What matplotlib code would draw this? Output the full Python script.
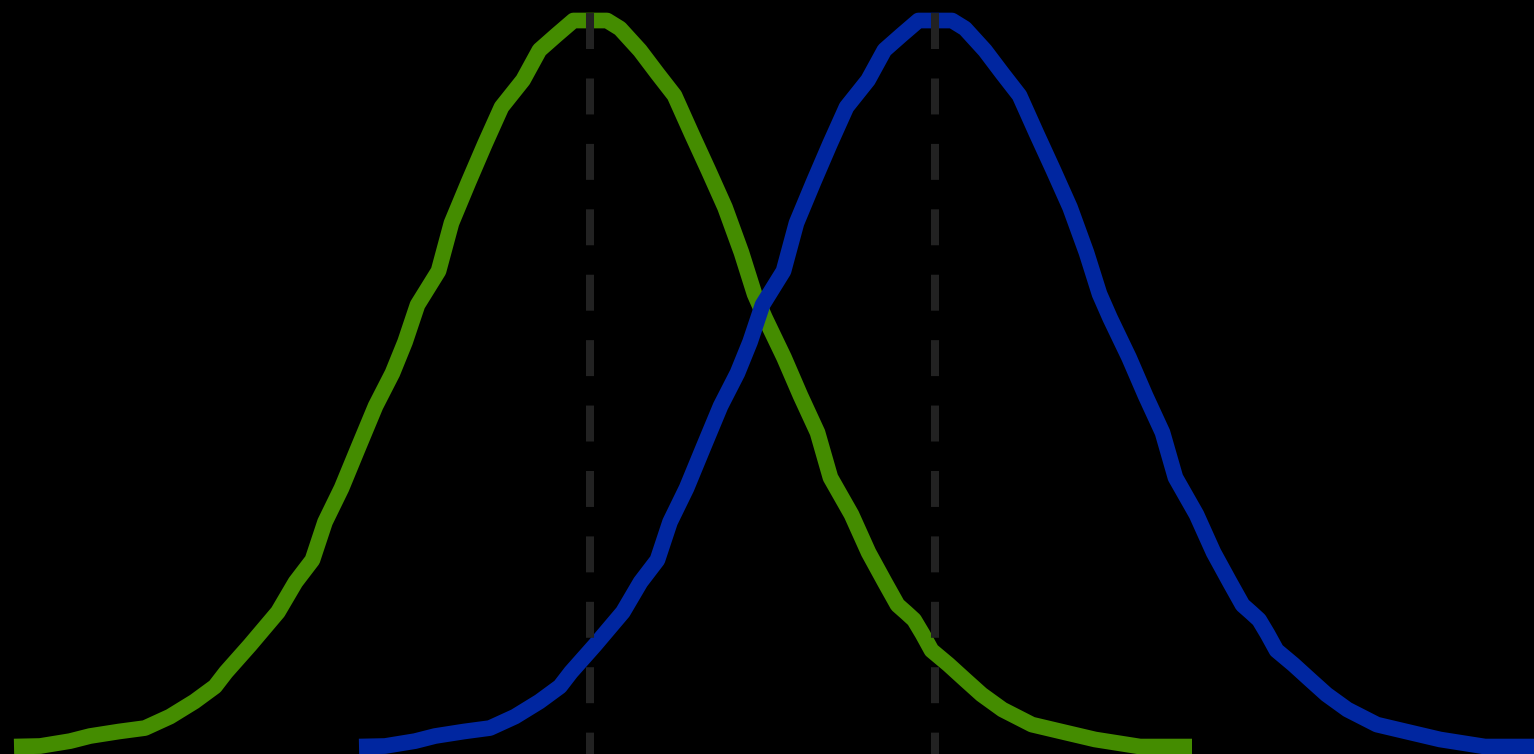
import numpy as np
import matplotlib
matplotlib.use('Agg')
import matplotlib.pyplot as plt

# Dash lengths are given in points, not in multiples of the line width
plt.rcParams['lines.scale_dashes'] = False

# Shape of the density curve (x relative to the mean)
x_rel = [-3.342, -3.191, -3.017, -2.901, -2.733, -2.583, -2.438, -2.296,
         -2.177, -2.113, -1.974, -1.812, -1.710, -1.612, -1.539, -1.443,
         -1.345, -1.246, -1.148, -1.075, -1.003, -0.881, -0.806, -0.707,
         -0.612, -0.516, -0.391, -0.296, -0.197, -0.099, 0.000, 0.096,
         0.171, 0.287, 0.388, 0.487, 0.586, 0.684, 0.780, 0.875,
         0.951, 1.012, 1.122, 1.217, 1.316, 1.391, 1.513, 1.612,
         1.707, 1.780, 1.830, 1.876, 1.925, 1.977, 2.075, 2.171, 2.267,
         2.388, 2.559, 2.728, 2.925, 3.186, 3.487]
density = [0.0000, 0.0003, 0.0030, 0.0058, 0.0083, 0.0102, 0.0165, 0.0248,
           0.0331, 0.0410, 0.0559, 0.0741, 0.0906, 0.1028, 0.1237, 0.1424,
           0.1650, 0.1876, 0.2058, 0.2229, 0.2433, 0.2620, 0.2884, 0.3110,
           0.3320, 0.3523, 0.3672, 0.3837, 0.3920, 0.4000, 0.4000, 0.4000,
           0.3956, 0.3835, 0.3708, 0.3587, 0.3377, 0.3174, 0.2970, 0.2722,
           0.2493, 0.2361, 0.2143, 0.1934, 0.1730, 0.1482, 0.1278, 0.1069,
           0.0904, 0.0780, 0.0738, 0.0698, 0.0620, 0.0530, 0.0452, 0.0369,
           0.0287, 0.0204, 0.0121, 0.0083, 0.0039, 0.0000, 0.0000]

means = [-1.0, 1.0]
colors = ['#448c00', '#0026a0']

fig = plt.figure(figsize=(15.34, 7.54), dpi=100, facecolor='black')
ax = fig.add_axes([0, 0, 1, 1])
ax.set_facecolor('black')

x_rel = np.array(x_rel)
for m, c in zip(means, colors):
    ax.plot(x_rel + m, density, color=c, linewidth=11.3,
            solid_capstyle='butt', solid_joinstyle='round', zorder=2)

ymin, ymax = -0.0041, 0.4113
for m in means:
    ax.plot([m, m], [ymax, ymin], color='#222222', linewidth=5.8, zorder=3,
            linestyle=(37.7, (25.9, 21.2)))

ax.set_xlim(-4.4232, 4.4696)
ax.set_ylim(ymin, ymax)
ax.axis('off')

fig.savefig('out.png', dpi=100, facecolor='black')
